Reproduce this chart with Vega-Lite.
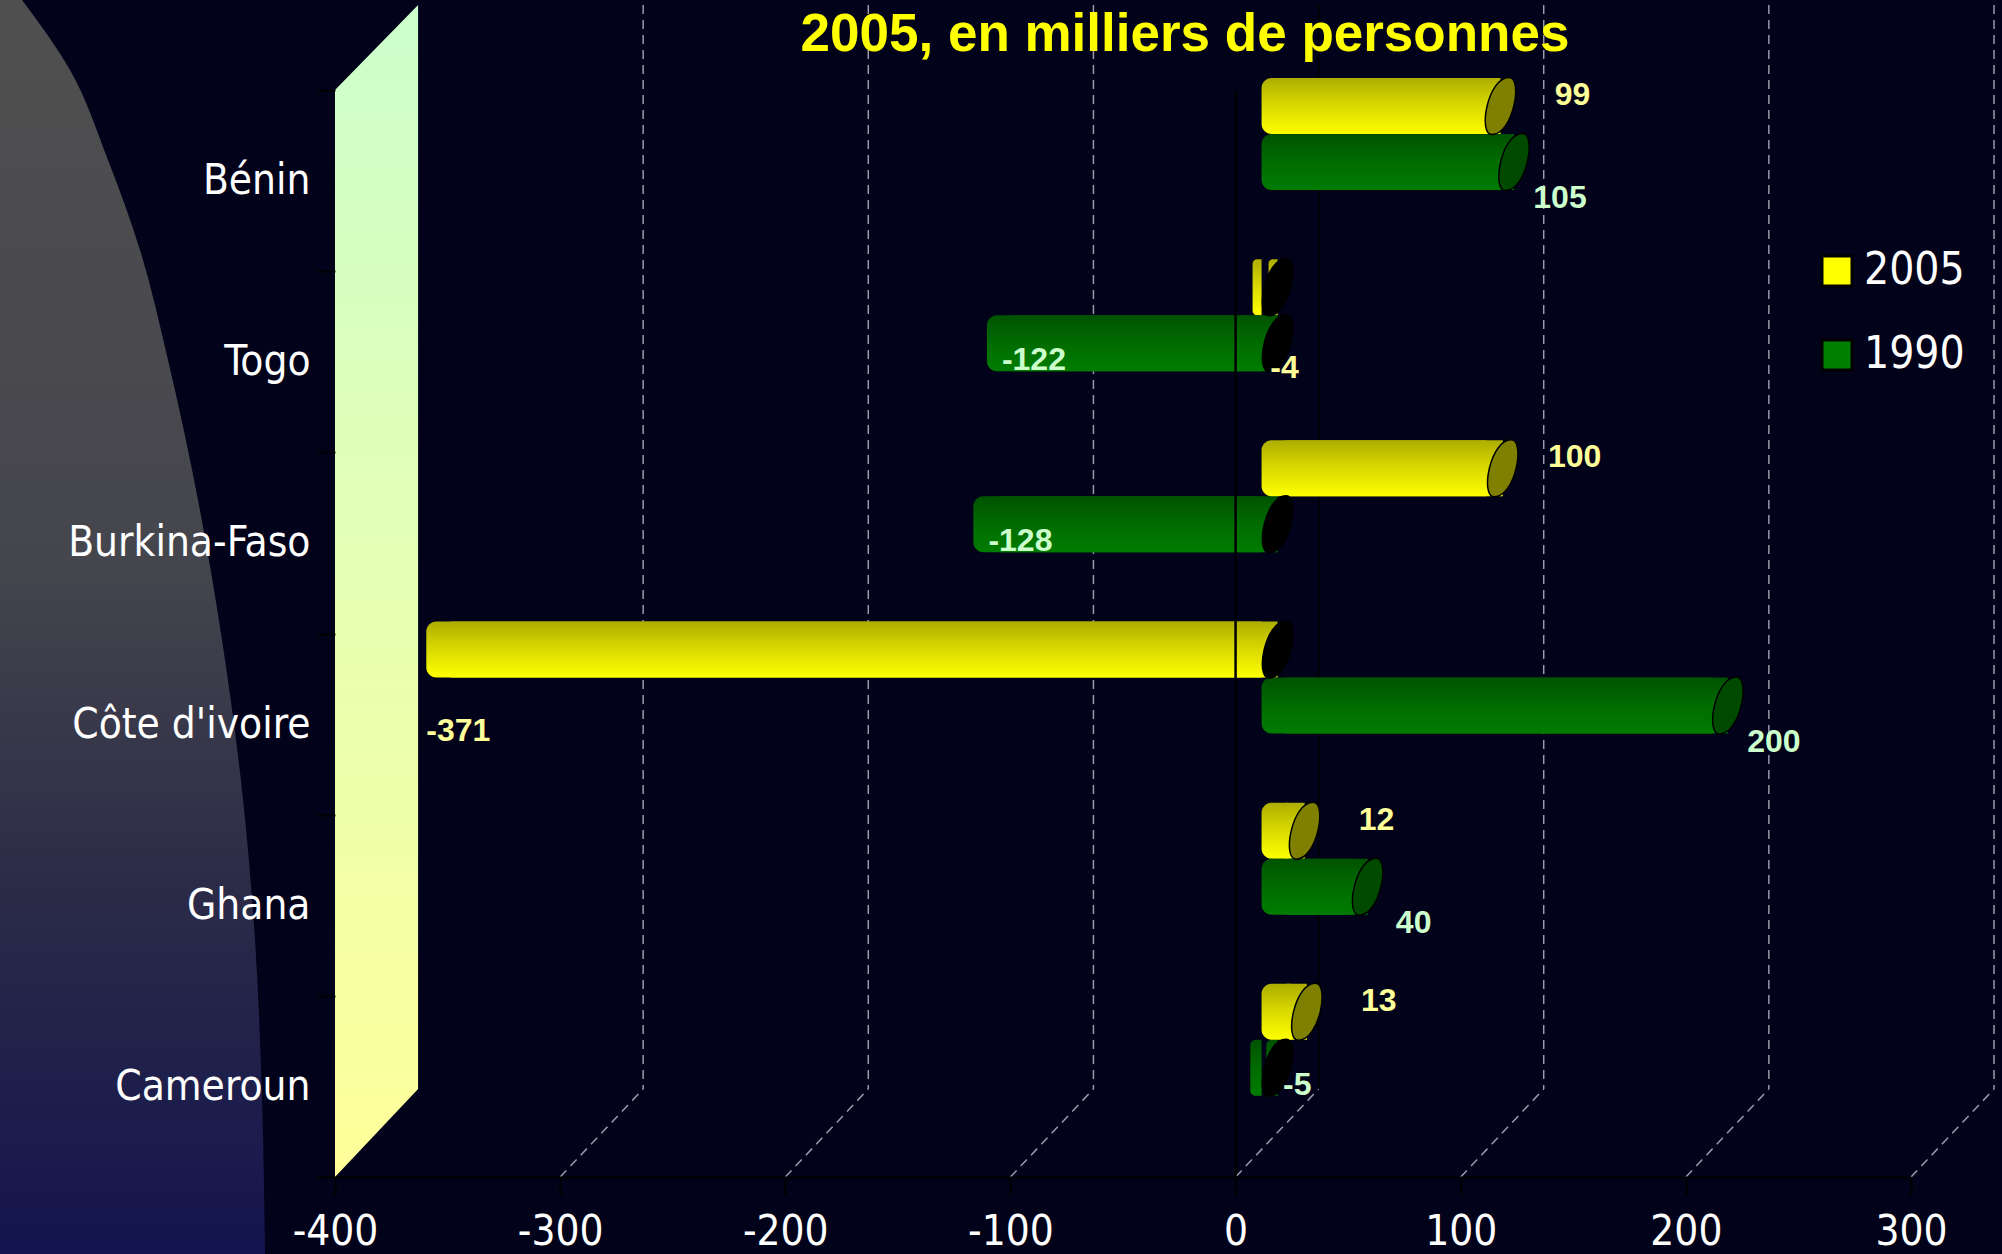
{
  "$schema": "https://vega.github.io/schema/vega-lite/v6.json",
  "autosize": {"type": "none"},
  "width": 1576,
  "height": 1087,
  "padding": {"left": 335, "top": 90, "right": 91, "bottom": 77},
  "background": "#02021a",
  "title": {
    "text": "2005, en milliers de personnes",
    "orient": "top",
    "anchor": "middle",
    "frame": "group",
    "baseline": "alphabetic",
    "offset": -52,
    "dy": 52,
    "dx": 62,
    "font": "Liberation Sans",
    "fontSize": 53,
    "fontWeight": "bold",
    "color": "#ffff00"
  },
  "datasets": {
    "pop": [
      {"country": "Bénin", "year": "2005", "v": 99},
      {"country": "Bénin", "year": "1990", "v": 105},
      {"country": "Togo", "year": "2005", "v": -4},
      {"country": "Togo", "year": "1990", "v": -122},
      {"country": "Burkina-Faso", "year": "2005", "v": 100},
      {"country": "Burkina-Faso", "year": "1990", "v": -128},
      {"country": "Côte d'ivoire", "year": "2005", "v": -371},
      {"country": "Côte d'ivoire", "year": "1990", "v": 200},
      {"country": "Ghana", "year": "2005", "v": 12},
      {"country": "Ghana", "year": "1990", "v": 40},
      {"country": "Cameroun", "year": "2005", "v": 13},
      {"country": "Cameroun", "year": "1990", "v": -5}
    ],
    "ticks": [
      {"tick": -300}, {"tick": -200}, {"tick": -100}, {"tick": 0},
      {"tick": 100}, {"tick": 200}, {"tick": 300}
    ],
    "shade": [
      {"level": 0, "edge": -539.03},
      {"level": 0.0558, "edge": -517.7},
      {"level": 0.1276, "edge": -500.83},
      {"level": 0.1994, "edge": -486.61},
      {"level": 0.2871, "edge": -474.18},
      {"level": 0.3987, "edge": -460.85},
      {"level": 0.5104, "edge": -450.19},
      {"level": 0.63, "edge": -441.31},
      {"level": 0.7496, "edge": -435.53},
      {"level": 0.8772, "edge": -432.42},
      {"level": 1, "edge": -431.09}
    ],
    "wall": [
      {"level": 0.004, "front": -363.1, "back": -363.1},
      {"level": 0.0718, "front": -400, "back": -363.1},
      {"level": 0.8684, "front": -400, "back": -363.1},
      {"level": 0.9386, "front": -400, "back": -400}
    ]
  },
  "resolve": {"scale": {"x": "independent", "y": "independent"}},
  "layer": [
    {
      "layer": [
        {
          "data": {"name": "shade"},
          "mark": {
            "type": "area",
            "orient": "horizontal",
            "interpolate": "monotone",
            "fill": {
              "gradient": "linear", "x1": 0, "y1": 0, "x2": 0, "y2": 1,
              "stops": [
                {"offset": 0, "color": "#505050"},
                {"offset": 0.45, "color": "#45454d"},
                {"offset": 0.72, "color": "#2a2a48"},
                {"offset": 1, "color": "#14144f"}
              ]
            }
          },
          "encoding": {
            "y": {"field": "level", "type": "quantitative", "scale": {"domain": [0.07177, 0.9386], "reverse": true, "nice": false, "zero": false}, "axis": null},
            "x": {"field": "edge", "type": "quantitative", "scale": {"domain": [-400, 300], "nice": false, "zero": false}, "axis": null},
            "x2": {"datum": -560}
          }
        },
        {
          "data": {"name": "wall"},
          "mark": {
            "type": "area",
            "orient": "horizontal",
            "fill": {
              "gradient": "linear", "x1": 0, "y1": 0, "x2": 0, "y2": 1,
              "stops": [
                {"offset": 0, "color": "#ccffcc"},
                {"offset": 1, "color": "#ffff99"}
              ]
            }
          },
          "encoding": {
            "y": {"field": "level", "type": "quantitative", "scale": {"domain": [0.07177, 0.9386], "reverse": true, "nice": false, "zero": false}, "axis": null},
            "x": {"field": "front", "type": "quantitative", "scale": {"domain": [-400, 300], "nice": false, "zero": false}, "axis": null},
            "x2": {"field": "back"}
          }
        }
      ]
    },
    {
      "data": {"name": "pop"},
      "layer": [
        {
          "data": {"name": "ticks"},
          "mark": {"type": "rule", "xOffset": 83, "x2Offset": 83, "yOffset": -85, "y2Offset": -88, "strokeWidth": 1.5},
          "encoding": {
            "x": {"field": "tick", "type": "quantitative", "scale": {"domain": [-400, 300], "nice": false, "zero": false}},
            "y": {"datum": "Bénin", "type": "nominal", "bandPosition": 0, "scale": {"domain": ["Bénin", "Togo", "Burkina-Faso", "Côte d'ivoire", "Ghana", "Cameroun"], "paddingInner": 0, "paddingOuter": 0}},
            "y2": {"datum": "Cameroun", "bandPosition": 1},
            "color": {"condition": {"test": "datum.tick === 0", "value": "#000000"}, "value": "#9a9aaa"},
            "strokeDash": {"condition": {"test": "datum.tick === 0", "value": [1, 0]}, "value": [9, 6]}
          }
        },
        {
          "data": {"name": "ticks"},
          "mark": {"type": "rule", "x2Offset": 83, "y2Offset": -88, "strokeWidth": 1.5, "color": "#9a9aaa", "strokeDash": [9, 6]},
          "encoding": {
            "x": {"field": "tick", "type": "quantitative"},
            "x2": {"field": "tick"},
            "y": {"datum": "Cameroun", "type": "nominal", "bandPosition": 1},
            "y2": {"datum": "Cameroun", "bandPosition": 1}
          }
        },
        {
          "mark": {"type": "square", "opacity": 0},
          "encoding": {
            "x": {
              "field": "v", "type": "quantitative",
              "axis": {
                "values": [-400, -300, -200, -100, 0, 100, 200, 300],
                "labelExpr": "'' + datum.value",
                "title": null, "grid": false, "orient": "bottom",
                "domainColor": "#000000", "domainWidth": 2,
                "tickColor": "#000000", "tickSize": 18, "tickWidth": 2,
                "labelColor": "#ffffff", "labelFont": "DejaVu Sans Condensed, Liberation Sans",
                "labelFontSize": 42, "labelPadding": 16, "labelFlush": false, "labelOverlap": false, "zindex": 1
              }
            },
            "y": {
              "field": "country", "type": "nominal",
              "axis": {
                "title": null, "domain": false, "tickBand": "extent", "orient": "left",
                "tickColor": "#000000", "tickSize": 18, "tickWidth": 2,
                "labelColor": "#ffffff", "labelFont": "DejaVu Sans Condensed, Liberation Sans",
                "labelFontSize": 42, "labelPadding": 7, "labelLimit": 500, "zindex": 1
              }
            },
            "color": {
              "field": "year", "type": "nominal",
              "scale": {"domain": ["2005", "1990"], "range": ["#ffff00", "#008000"]},
              "legend": {
                "orient": "none", "legendX": 1480, "legendY": 159, "title": null,
                "symbolType": "square", "symbolSize": 900, "symbolOpacity": 1,
                "symbolStrokeColor": "#000000", "symbolStrokeWidth": 3,
                "labelColor": "#ffffff", "labelFont": "DejaVu Sans Condensed, Liberation Sans",
                "labelFontSize": 44, "labelOffset": 5, "rowPadding": 40, "labelLimit": 300
              }
            }
          }
        }
      ]
    },
    {
      "data": {"name": "pop"},
      "encoding": {
        "x": {"field": "v", "type": "quantitative", "scale": {"domain": [-418.66, 281.34], "nice": false, "zero": false}, "axis": null},
        "y": {"field": "country", "type": "nominal", "scale": {"domain": ["Bénin", "Togo", "Burkina-Faso", "Côte d'ivoire", "Ghana", "Cameroun"], "paddingInner": 0, "paddingOuter": 0}, "axis": null},
        "yOffset": {"field": "year", "type": "nominal", "scale": {"domain": ["2005", "1990"], "range": [-12, 100], "paddingInner": 0, "paddingOuter": 0}}
      },
      "layer": [
        {
          "mark": {"type": "bar", "cornerRadiusTopLeft": 10, "cornerRadiusBottomLeft": 10},
          "encoding": {
            "x2": {"datum": 0},
            "fill": {
              "condition": {"test": "datum.year === '2005'", "value": {"gradient": "linear", "x1": 0, "y1": 0, "x2": 0, "y2": 1, "stops": [{"offset": 0, "color": "#adad00"}, {"offset": 0.45, "color": "#d6d600"}, {"offset": 1, "color": "#ffff00"}]}},
              "value": {"gradient": "linear", "x1": 0, "y1": 0, "x2": 0, "y2": 1, "stops": [{"offset": 0, "color": "#005200"}, {"offset": 0.5, "color": "#006c00"}, {"offset": 1, "color": "#007c00"}]}
            }
          }
        }
      ]
    },
    {
      "data": {"name": "pop"},
      "encoding": {
        "x": {"field": "v", "type": "quantitative", "scale": {"domain": [-411.55, 288.45], "nice": false, "zero": false}, "axis": null},
        "y": {"field": "country", "type": "nominal", "scale": {"domain": ["Bénin", "Togo", "Burkina-Faso", "Côte d'ivoire", "Ghana", "Cameroun"], "paddingInner": 0, "paddingOuter": 0}, "axis": null},
        "yOffset": {"field": "year", "type": "nominal", "scale": {"domain": ["2005", "1990"], "range": [-12, 100], "paddingInner": 0, "paddingOuter": 0}}
      },
      "layer": [
        {
          "mark": {"type": "bar", "cornerRadiusTopLeft": 10, "cornerRadiusBottomLeft": 10},
          "encoding": {
            "x2": {"datum": 0},
            "fill": {
              "condition": {"test": "datum.year === '2005'", "value": {"gradient": "linear", "x1": 0, "y1": 0, "x2": 0, "y2": 1, "stops": [{"offset": 0, "color": "#adad00"}, {"offset": 0.45, "color": "#d6d600"}, {"offset": 1, "color": "#ffff00"}]}},
              "value": {"gradient": "linear", "x1": 0, "y1": 0, "x2": 0, "y2": 1, "stops": [{"offset": 0, "color": "#005200"}, {"offset": 0.5, "color": "#006c00"}, {"offset": 1, "color": "#007c00"}]}
            }
          }
        },
        {
          "transform": [{"filter": "datum.v >= 0"}],
          "mark": {"type": "point", "shape": "M0.3,-1 C0.8,-1 0.45,1 -0.3,1 C-0.8,1 -0.45,-1 0.3,-1 Z", "size": 3250, "filled": true, "opacity": 1, "stroke": "#000000", "strokeWidth": 1.5, "xOffset": 16},
          "encoding": {
            "fill": {"condition": {"test": "datum.year === '2005'", "value": "#808000"}, "value": "#004a00"}
          }
        },
        {
          "transform": [{"filter": "datum.v < 0"}],
          "mark": {"type": "point", "shape": "M0.3,-1 C0.8,-1 0.45,1 -0.3,1 C-0.8,1 -0.45,-1 0.3,-1 Z", "size": 3250, "filled": true, "opacity": 1, "fill": "#000000", "stroke": "#000000", "strokeWidth": 1.5, "xOffset": 16},
          "encoding": {
            "x": {"datum": 0, "type": "quantitative"}
          }
        },
        {
          "transform": [{"filter": "datum.year === '2005' && datum.v >= 0"}],
          "mark": {"type": "text", "dx": 88, "dy": -11, "align": "center", "baseline": "middle", "font": "Liberation Sans", "fontWeight": "bold", "fontSize": 32, "color": "#ffff99"},
          "encoding": {"text": {"field": "v", "type": "nominal"}}
        },
        {
          "transform": [{"filter": "datum.year === '2005' && datum.v < 0"}],
          "mark": {"type": "text", "dx": 32, "dy": 81, "align": "center", "baseline": "middle", "font": "Liberation Sans", "fontWeight": "bold", "fontSize": 32, "color": "#ffff99"},
          "encoding": {"text": {"field": "v", "type": "nominal"}}
        },
        {
          "transform": [{"filter": "datum.year === '1990' && datum.v >= 0"}],
          "mark": {"type": "text", "dx": 62, "dy": 36, "align": "center", "baseline": "middle", "font": "Liberation Sans", "fontWeight": "bold", "fontSize": 32, "color": "#ccffcc"},
          "encoding": {"text": {"field": "v", "type": "nominal"}}
        },
        {
          "transform": [{"filter": "datum.year === '1990' && datum.v < 0"}],
          "mark": {"type": "text", "dx": 47, "dy": 17, "align": "center", "baseline": "middle", "font": "Liberation Sans", "fontWeight": "bold", "fontSize": 32, "color": "#ccffcc"},
          "encoding": {"text": {"field": "v", "type": "nominal"}}
        }
      ]
    },
    {
      "data": {"values": [{"zero": 0}]},
      "mark": {"type": "rule", "color": "#000000", "strokeWidth": 2.5},
      "encoding": {"x": {"field": "zero", "type": "quantitative", "scale": {"domain": [-400, 300], "nice": false, "zero": false}, "axis": null}}
    }
  ],
  "config": {
    "view": {"stroke": null},
    "font": "Liberation Sans"
  }
}
